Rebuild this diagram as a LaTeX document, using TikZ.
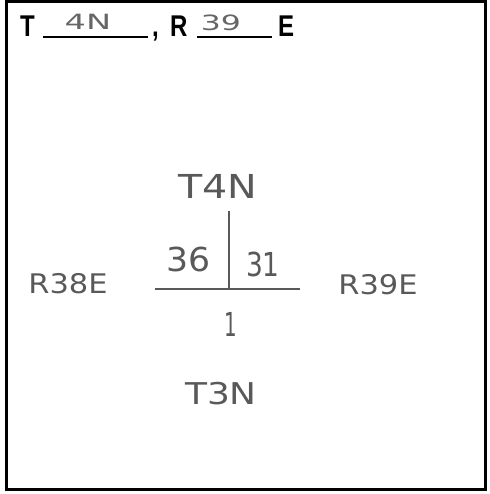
\documentclass[tikz,border=0pt]{standalone}
\usepackage{fontspec}
\setmainfont{Liberation Sans}
\newfontfamily\handfont{DejaVu Sans}
\begin{document}
\begin{tikzpicture}[x=1pt,y=-1pt,
  printed/.style={inner sep=0pt, font=\fontsize{30}{30}\selectfont\bfseries, text=black, xscale=0.8},
  hand/.style={inner sep=0pt, font=\handfont\fontsize{33}{33}\selectfont, text=black!65},
  handmid/.style={inner sep=0pt, font=\handfont\fontsize{27}{27}\selectfont, text=black!65},
  handsmall/.style={inner sep=0pt, font=\handfont\fontsize{21}{21}\selectfont, text=black!60},
  handline/.style={draw=black!65, line width=2pt},
  blank/.style={draw=black, line width=1.8pt}]
\useasboundingbox (0,0) rectangle (489,494);
\draw[line width=3pt] (6,2) rectangle (485,489);
% header
\node[printed, anchor=base west] (T) at (20,37) {T};
\coordinate (u1a) at (43,37); \coordinate (u1b) at (148,37);
\draw[blank] (u1a) -- (u1b);
\node[handsmall, anchor=base, xscale=1.6] (tv) at (88,30) {4N};
\node[printed, anchor=base west] (comma) at (152,37) {,};
\node[printed, anchor=base west] (R) at (170,37) {R};
\coordinate (u2a) at (197,37); \coordinate (u2b) at (272,37);
\draw[blank] (u2a) -- (u2b);
\node[handsmall, anchor=base, xscale=1.5] (rv) at (221,31) {39};
\node[printed, anchor=base west] (E) at (278,37) {E};
% center cross
\coordinate (vt) at (229,211);
\coordinate (vb) at (229,289);
\coordinate (hl) at (155,289);
\coordinate (hr) at (300,289);
\draw[handline] (vt) -- (vb);
\draw[handline] (hl) -- (hr);
% labels
\node[hand, xscale=1.2] (t4n) at (218,186) {T4N};
\node[hand, xscale=1.05] (s36) at (189,259) {36};
\node[hand, xscale=0.8] (s31) at (263,264) {31};
\node[hand, xscale=0.6] (s1) at (231,324) {1};
\node[handmid, xscale=1.13] (r38) at (68,284) {R38E};
\node[handmid, xscale=1.13] (r39) at (378,285) {R39E};
\node[handmid, font=\handfont\fontsize{30}{30}\selectfont, xscale=1.2] (t3n) at (221,394) {T3N};
\end{tikzpicture}
\end{document}
